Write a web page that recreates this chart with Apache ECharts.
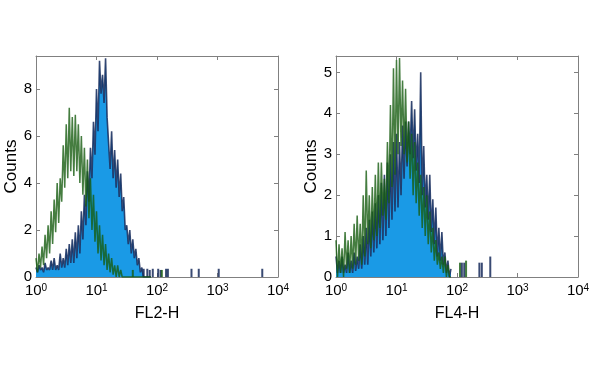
<!DOCTYPE html>
<html>
<head>
<meta charset="utf-8">
<script src="https://cdn.jsdelivr.net/npm/echarts@6/dist/echarts.min.js"></script>
<style>
html,body{margin:0;padding:0;background:#fff;}
#chart{width:600px;height:374px;}
</style>
</head>
<body>
<div id="chart"></div>
<script>
// histogram channel positions (log10 of fluorescence)
const binLog = [0.000,0.025,0.050,0.075,0.100,0.125,0.150,0.175,0.200,0.225,0.250,0.275,0.300,0.325,0.350,0.375,0.400,0.425,0.450,0.475,0.500,0.525,0.550,0.575,0.600,0.625,0.650,0.675,0.700,0.725,0.750,0.775,0.800,0.825,0.850,0.875,0.900,0.925,0.950,0.975,1.000,1.025,1.050,1.075,1.100,1.125,1.150,1.175,1.200,1.225,1.250,1.275,1.300,1.325,1.350,1.375,1.400,1.425,1.450,1.475,1.500,1.525,1.550,1.575,1.600,1.625,1.650,1.675,1.700,1.725,1.750,1.775,1.800,1.825,1.850,1.875,1.900];

// FL2-H panel
const fl2Blue = [0.4,0.2,0.5,0.3,0.4,0.2,0.6,0.3,0.4,0.3,0.7,0.3,0.8,0.3,0.5,0.3,1.0,0.4,0.8,0.4,1.2,0.5,1.4,0.6,1.6,0.6,1.9,0.8,2.2,1.0,2.8,1.6,3.5,2.2,4.5,3.2,5.5,4.2,6.6,5.2,8.0,6.2,9.2,7.8,8.6,7.4,9.3,6.8,6.8,4.6,6.2,4.2,5.4,3.8,5.0,3.4,4.4,2.8,3.4,2.0,2.2,1.4,2.0,1.0,1.6,0.8,1.2,0.5,0.8,0.2,0.4,0,0,0,0,0,0];
const fl2Green = [0.8,0.2,1.0,0.4,1.3,0.5,1.8,0.8,2.2,1.0,2.8,1.4,3.3,1.9,4.0,2.3,4.2,3.2,5.6,3.8,6.5,4.2,7.2,4.5,6.8,4.3,6.9,4.5,6.5,4.0,6.0,3.5,5.5,3.0,5.0,2.5,4.2,2.0,3.5,1.5,2.8,1.0,2.2,0.7,1.8,0.5,1.4,0.3,1.0,0.2,0.8,0.1,0.5,0,0.5,0,0.3,0,0,0,0,0,0,0,0,0,0,0,0,0,0,0,0,0,0,0,0];
const fl2BlueTail = [[1.78,0.35],[1.84,0.35],[1.88,0.3],[1.93,0.35],[2.02,0.35],[2.06,0.3],[2.15,0.35],[2.18,0.35],[2.57,0.35],[2.69,0.35],[3.02,0.35],[3.74,0.35]];
const fl2GreenTail = [[1.60,0.3],[2.08,0.3]];

// FL4-H panel
const fl4Blue = [0.5,0.1,0.4,0.1,0.5,0.1,0.3,0.1,0.6,0.1,0.4,0.1,0.6,0.15,0.5,0.2,0.8,0.2,1.0,0.3,1.2,0.3,1.4,0.5,1.6,0.6,1.8,0.7,2.0,0.8,2.3,0.9,2.5,1.0,2.8,1.2,3.0,1.4,3.3,1.6,3.5,1.7,3.3,2.0,3.7,2.4,3.8,2.7,3.8,3.0,4.3,2.9,4.1,2.6,3.5,2.3,5.0,2.0,3.2,1.7,2.5,1.4,2.5,1.1,1.9,0.8,1.7,0.5,1.2,0.4,1.1,0.3,0.6,0.1,0.4,0,0.2];
const fl4Green = [0.9,0,0.8,0.1,0.7,0,1.1,0.2,0.9,0.1,1.0,0.2,1.3,0.3,1.5,0.4,1.3,0.3,2.0,0.5,2.6,0.8,2.0,0.7,2.2,0.9,2.5,1.0,2.8,1.2,2.8,1.5,2.4,1.4,3.3,1.8,4.2,2.2,5.1,2.5,5.3,3.0,5.35,3.2,4.8,3.0,4.6,2.8,3.8,2.4,3.5,2.0,3.3,1.8,2.8,1.5,2.5,1.2,2.2,1.0,2.0,0.8,1.6,0.6,1.2,0.4,0.9,0.3,0.6,0.2,0.5,0.1,0.5,0,0.3,0,0];
const fl4BlueTail = [[2.08,0.35],[2.12,0.35],[2.37,0.35],[2.41,0.35],[2.55,0.5]];
const fl4GreenTail = [[2.05,0.35],[2.15,0.4]];

const xNames = ['FL2-H','FL4-H'];
const yNames = ['Counts','Counts'];
const yMax = [9.4, 5.4];
const yStep = [2, 1];

const pair = (ys) => binLog.map((x, i) => [x, ys[i]]);

const FONT = 'Liberation Sans, Arial, sans-serif';
const AX = '#808080';
const NAVY = 'rgba(22,42,90,0.85)';
const BLUE = '#1a9ae6';
const GREEN = 'rgba(22,92,16,0.8)';

const grids = [
  {left: 36, right: 322, top: 56, bottom: 97},
  {left: 336, right: 22, top: 56, bottom: 97}
];

const axisLine = {show: true, onZero: false, lineStyle: {color: AX, width: 1}};
const axisTick = {show: true, inside: true, length: 4, lineStyle: {color: AX}};

const xAxes = [], yAxes = [];
[0,1].forEach(g => {
  xAxes.push({
    gridIndex: g, type: 'value', min: 0, max: 4, interval: 1, position: 'bottom',
    name: xNames[g], nameLocation: 'middle', nameGap: 22,
    nameTextStyle: {fontFamily: FONT, fontSize: 16, color: '#000'},
    axisLine: axisLine, axisTick: axisTick,
    splitLine: {show: false},
    axisLabel: {
      margin: 6,
      formatter: v => '{b|10}{s|' + v + '}',
      rich: {
        b: {fontFamily: FONT, fontSize: 15, color: '#000', lineHeight: 16},
        s: {fontFamily: FONT, fontSize: 10, color: '#000', verticalAlign: 'top', lineHeight: 10, padding: [0,0,8,0]}
      }
    }
  });
  xAxes.push({
    gridIndex: g, type: 'value', min: 0, max: 4, interval: 1, position: 'top',
    axisLine: axisLine, axisTick: axisTick,
    axisLabel: {show: false}, splitLine: {show: false}
  });
  yAxes.push({
    gridIndex: g, type: 'value', min: 0, max: yMax[g], interval: yStep[g], position: 'left',
    name: yNames[g], nameLocation: 'middle', nameGap: 13, nameRotate: 90,
    nameTextStyle: {fontFamily: FONT, fontSize: 17, color: '#000'},
    axisLine: axisLine, axisTick: axisTick,
    splitLine: {show: false},
    axisLabel: {margin: 4, fontFamily: FONT, fontSize: 15, color: '#000', showMaxLabel: false}
  });
  yAxes.push({
    gridIndex: g, type: 'value', min: 0, max: yMax[g], interval: yStep[g], position: 'right',
    axisLine: axisLine, axisTick: axisTick,
    axisLabel: {show: false}, splitLine: {show: false}
  });
});

function panelSeries(g, blue, green, blueTail, greenTail) {
  const xi = g * 2, yi = g * 2;
  return [
    {type: 'line', xAxisIndex: xi, yAxisIndex: yi, data: pair(blue), symbol: 'none', animation: false,
     lineStyle: {color: NAVY, width: 1.6}, areaStyle: {color: BLUE, opacity: 1}, z: 2},
    {type: 'bar', xAxisIndex: xi, yAxisIndex: yi, data: blueTail, barWidth: 2, animation: false,
     itemStyle: {color: NAVY}, z: 2},
    {type: 'line', xAxisIndex: xi, yAxisIndex: yi, data: pair(green), symbol: 'none', animation: false,
     lineStyle: {color: GREEN, width: 1.5}, z: 3},
    {type: 'bar', xAxisIndex: xi, yAxisIndex: yi, data: greenTail, barWidth: 2, barGap: '-100%', animation: false,
     itemStyle: {color: GREEN}, z: 3}
  ];
}

const chart = echarts.init(document.getElementById('chart'), null, {renderer: 'canvas'});
chart.setOption({
  backgroundColor: '#fff',
  animation: false,
  grid: grids,
  xAxis: xAxes,
  yAxis: yAxes,
  series: [].concat(
    panelSeries(0, fl2Blue, fl2Green, fl2BlueTail, fl2GreenTail),
    panelSeries(1, fl4Blue, fl4Green, fl4BlueTail, fl4GreenTail)
  )
});
</script>
</body>
</html>
